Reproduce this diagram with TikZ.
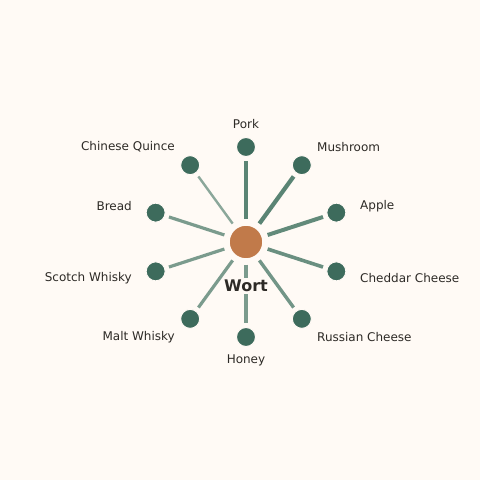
\documentclass[tikz,border=0pt]{standalone}
\usepackage{fontspec}
\setmainfont{DejaVu Sans}
\usetikzlibrary{positioning,calc}

\definecolor{paper}{HTML}{FFFAF5}
\definecolor{pine}{HTML}{3D6B5C}
\definecolor{spoke}{HTML}{5A8474}
\definecolor{malt}{HTML}{C17A4A}
\definecolor{ink}{HTML}{2D2A26}

\tikzset{
    leaf/.style={circle, fill=pine, draw=paper, line width=1pt, minimum size=19pt, inner sep=0pt},
    hub/.style={circle, fill=malt, draw=paper, line width=1.5pt, minimum size=34pt, inner sep=0pt},
    tag/.style={text=ink, font=\fontsize{12}{14}\selectfont, inner sep=0pt},
    link/.style={draw=spoke, shorten <=5pt, shorten >=4pt}
}

\begin{document}
\begin{tikzpicture}[x=1pt, y=1pt]
        \fill[paper] (0,0) rectangle (480,480);
        \useasboundingbox (0,0) rectangle (480,480);
        \node[hub] (wort) at (246,238) {};
        \foreach \ang/\nm/\w/\op/\lx/\ly/\anc/\txt in {
            90/pork/4.5/1/246/356/center/Pork,
            54/mush/4.2/1/317/333/west/Mushroom,
            18/apple/4/0.95/360/274/west/Apple,
            -18/ched/3.6/0.9/360/202/west/Cheddar Cheese,
            -54/russ/3.4/0.85/317/143/west/Russian Cheese,
            -90/honey/3.2/0.8/246/120/center/Honey,
            -126/whisk/3.2/0.8/175/143/east/Malt Whisky,
            -162/scotch/3.2/0.8/132/202/east/Scotch Whisky,
            162/bread/3.2/0.8/132/274/east/Bread,
            126/quince/2.4/0.7/175/333/east/Chinese Quince
        }{
            \node[leaf] (n\nm) at ($(wort)+(\ang:95)$) {};
            \draw[link, line width=\w pt, draw opacity=\op] (wort) -- (n\nm);
            \node[tag, anchor=\anc] (l\nm) at (\lx,\ly) {\txt};
        }
        \node[tag, font=\fontsize{16}{18}\selectfont\bfseries, fill=paper, inner sep=2pt] (wlbl) at (246,194) {Wort};
    \end{tikzpicture}
\end{document}
